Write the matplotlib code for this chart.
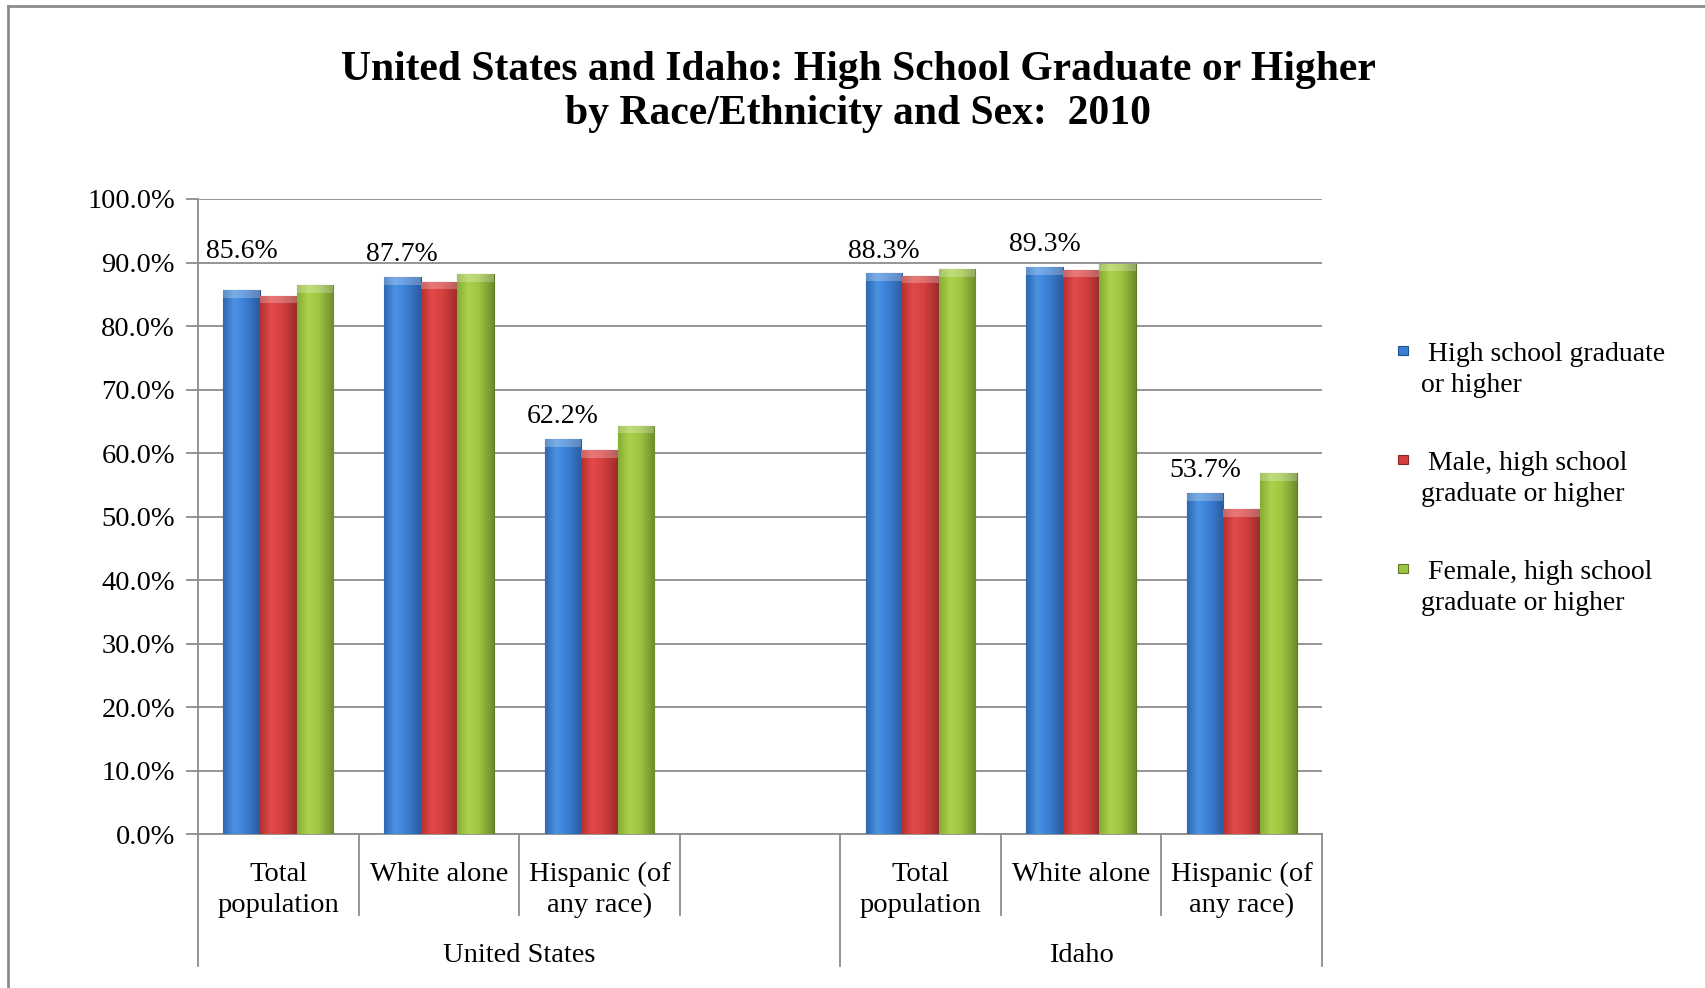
import numpy as np
import matplotlib
matplotlib.use("Agg")
import matplotlib.pyplot as plt
from matplotlib.colors import LinearSegmentedColormap
from matplotlib.patches import Rectangle
from matplotlib.lines import Line2D
import matplotlib.transforms as mtransforms

# ---------------- data ----------------
categories = ["Total\npopulation", "White alone", "Hispanic (of\nany race)", "",
              "Total\npopulation", "White alone", "Hispanic (of\nany race)"]
groups = ["United States", "Idaho"]
group_sizes = [4, 3]
series_names = [" High school graduate\nor higher",
                " Male, high school\ngraduate or higher",
                " Female, high school\ngraduate or higher"]
hs_total = [85.6, 87.7, 62.2, np.nan, 88.3, 89.3, 53.7]
hs_male = [84.8, 87.0, 60.5, np.nan, 87.9, 88.9, 51.2]
hs_female = [86.4, 88.2, 64.3, np.nan, 89.0, 89.8, 56.8]
yticks = [0, 10, 20, 30, 40, 50, 60, 70, 80, 90, 100]
ytick_labels = [f"{v:.1f}%" for v in yticks]
title = "United States and Idaho: High School Graduate or Higher\nby Race/Ethnicity and Sex:  2010"

# ---------------- style ----------------
FONT = "Liberation Serif"
plt.rcParams['font.family'] = [FONT, 'DejaVu Serif']
GRID = "#8c8c8c"
series_cols = [
    ["#2d68b2", "#4c92e2", "#3b7fd5", "#2b5c9f"],
    ["#b53030", "#e24a4a", "#d63f3f", "#9c2c2c"],
    ["#86ad34", "#abd24c", "#9cc541", "#6e8c2a"],
]
edge_cols = ["#25528c", "#8a2626", "#5f7a24"]
label_offsets_pt = [19, 7, 7, 7, 7, 7]

fig = plt.figure(figsize=(17.05, 9.88), dpi=100)
fig.patch.set_facecolor("white")
ax = fig.add_axes([198 / 1705, 1 - 834.3 / 988, (1322 - 198) / 1705, (834.3 - 199) / 988])

n = len(categories)
x = np.arange(n)
w = 0.228
all_series = [hs_total, hs_male, hs_female]

for k, vals in enumerate(all_series):
    cmap = LinearSegmentedColormap.from_list(f"g{k}", list(zip([0, 0.3, 0.6, 1.0], series_cols[k])))
    bars = ax.bar(x + (k - 1) * w, vals, width=w, color=series_cols[k][2],
                  edgecolor=edge_cols[k], linewidth=0.8, zorder=3)
    grad = np.linspace(0, 1, 64).reshape(1, -1)
    for b in bars:
        h = b.get_height()
        if not np.isfinite(h):
            continue
        x0 = b.get_x()
        im = ax.imshow(grad, cmap=cmap, extent=[x0, x0 + b.get_width(), 0, h],
                       aspect='auto', origin='lower', zorder=3.5, interpolation='bilinear')
        im.set_clip_path(b)
        # top bevel highlight
        ax.add_patch(Rectangle((x0, h - 1.2), b.get_width(), 1.2, facecolor="white",
                               alpha=0.25, edgecolor='none', zorder=3.6))

# data labels on first series
lab_i = 0
for i, v in enumerate(hs_total):
    if not np.isfinite(v):
        continue
    ax.annotate(f"{v:.1f}%", (x[i] - w, v), xytext=(0, label_offsets_pt[lab_i]),
                textcoords="offset points", ha="center", va="bottom",
                fontsize=20, color="black", zorder=5)
    lab_i += 1

ax.set_xlim(-0.5, n - 0.5)
ax.set_ylim(0, 100)
ax.set_yticks(yticks)
ax.set_yticklabels(ytick_labels, fontsize=20.5)
ax.yaxis.grid(True, color=GRID, linewidth=1.3, zorder=0)
ax.set_axisbelow(True)
ax.tick_params(axis='y', length=9, width=1.3, color=GRID, pad=7.5)
ax.set_xticks([])
for s in ["top", "right"]:
    ax.spines[s].set_visible(False)
for s in ["left", "bottom"]:
    ax.spines[s].set_color(GRID)
    ax.spines[s].set_linewidth(1.3)

# multi-level category axis
axh = 834.3 - 199
trans = mtransforms.blended_transform_factory(ax.transData, ax.transAxes)
short_end = -(915 - 834.3) / axh
long_end = -(966 - 834.3) / axh
group_edges = np.concatenate([[0], np.cumsum(group_sizes)]) - 0.5
for b in np.arange(n + 1) - 0.5:
    end = long_end if np.any(np.isclose(b, group_edges)) else short_end
    ax.add_line(Line2D([b, b], [0, end], transform=trans, color=GRID, linewidth=1.3, clip_on=False))

for i, c in enumerate(categories):
    if not c:
        continue
    yc = 890 if "\n" in c else 874
    ax.text(x[i], -(yc - 834.3) / axh, c, transform=trans, ha="center", va="center",
            fontsize=20.5, linespacing=1.31)
grp_y = -(955 - 834.3) / axh
for gname, lo, hi in zip(groups, group_edges[:-1], group_edges[1:]):
    ax.text((lo + hi) / 2, grp_y, gname, transform=trans, ha="center", va="center", fontsize=20.5)

# title
fig.text(0.5035, 1 - 92 / 988, title, ha="center", va="center", fontsize=30,
         fontweight="bold", linespacing=1.23)

# legend (manual)
leg_line1_y = [352, 461, 570]
for k, name in enumerate(series_names):
    yc = leg_line1_y[k]
    fig.patches.append(Rectangle(((1403 - 5) / 1705, 1 - (yc + 3) / 988), 10 / 1705, 9 / 988,
                                 transform=fig.transFigure, facecolor=series_cols[k][2],
                                 edgecolor=edge_cols[k], linewidth=0.8))
    fig.text(1421 / 1705, 1 - (yc + 18) / 988, name, ha="left", va="center",
             fontsize=20, linespacing=1.32)

# outer border (top and left visible)
fig.add_artist(Line2D([8 / 1705, 1.0], [1 - 6 / 988, 1 - 6 / 988], transform=fig.transFigure,
                      color=GRID, linewidth=2))
fig.add_artist(Line2D([8 / 1705, 8 / 1705], [1 - 6 / 988, 0.0], transform=fig.transFigure,
                      color=GRID, linewidth=2))

fig.savefig("out.png", dpi=100, facecolor="white")
